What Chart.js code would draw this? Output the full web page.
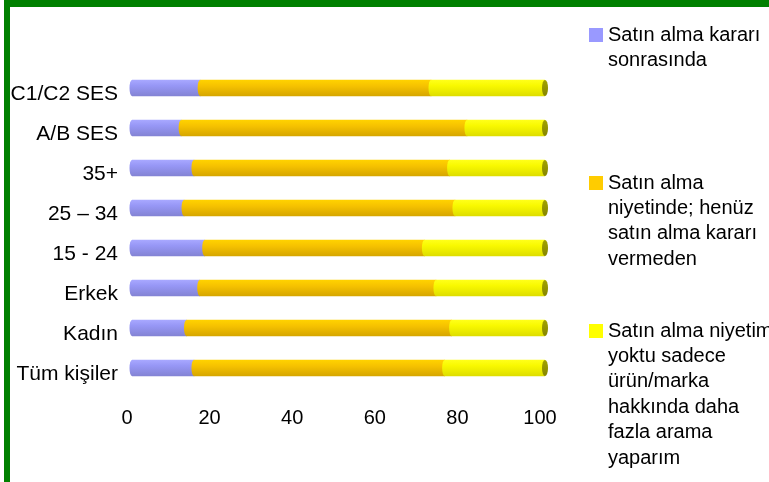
<!DOCTYPE html>
<html>
<head>
<meta charset="utf-8">
<script src="https://cdn.jsdelivr.net/npm/chart.js@4/dist/chart.umd.min.js"></script>
<style>
  body { margin: 0; background: #fff; overflow: hidden; }
  #wrap { position: relative; width: 769px; height: 482px; }
  #frame {
    position: absolute; left: 4px; top: 0px; width: 900px; height: 600px;
    border-top: 7px solid #008000; border-left: 6px solid #008000;
    pointer-events: none;
  }
</style>
</head>
<body>
<div id="wrap">
  <canvas id="canvas1" width="769" height="482"></canvas>
  <div id="frame"></div>
</div>
<script>
var groups = ["C1/C2 SES", "A/B SES", "35+", "25 \u2013 34", "15 - 24", "Erkek", "Kad\u0131n", "T\u00fcm ki\u015filer"];
var afterDecision = [16.5, 11.9, 15.0, 12.6, 17.6, 16.4, 13.2, 15.0];
var stillDeciding = [55.9, 69.2, 61.9, 65.6, 53.2, 57.2, 64.2, 60.7];
var justResearching = [27.6, 18.9, 23.1, 21.8, 29.2, 26.4, 22.6, 24.3];
var xTicks = [0, 20, 40, 60, 80, 100];

// legend text, one entry per series, already broken into lines
var legendLines = [
    ["Sat\u0131n alma karar\u0131", "sonras\u0131nda"],
    ["Sat\u0131n alma", "niyetinde; hen\u00fcz", "sat\u0131n alma karar\u0131", "vermeden"],
    ["Sat\u0131n alma niyetim", "yoktu sadece", "\u00fcr\u00fcn/marka", "hakk\u0131nda daha", "fazla arama", "yapar\u0131m"]
];
var legendTop = [35, 183, 331];

// light / mid / dark shades for the tube look
var shades = [
    ["#A8A8FF", "#9797F6", "#8383D4"],
    ["#FFD200", "#F7C300", "#D6A600"],
    ["#FFFF1A", "#F9F900", "#DEDE00"]
];
var flat = ["#9999FF", "#FFCC00", "#FFFF00"];
var BAR_H = 16;
var FONT = "'Liberation Sans', Arial, sans-serif";

function tube(idx) {
    return function (ctx) {
        var chart = ctx.chart;
        var ys = chart.scales.y;
        if (!ys || !chart.chartArea) return flat[idx];
        var yc = ys.getPixelForValue(ctx.dataIndex);
        var g = chart.ctx.createLinearGradient(0, yc - BAR_H / 2, 0, yc + BAR_H / 2);
        g.addColorStop(0, shades[idx][0]);
        g.addColorStop(0.35, shades[idx][1]);
        g.addColorStop(1, shades[idx][2]);
        return g;
    };
}

var tubeEnds = {
    id: 'tubeEnds',
    afterDatasetsDraw: function (chart) {
        var c = chart.ctx;
        c.save();
        for (var d = 0; d < 3; d++) {
            chart.getDatasetMeta(d).data.forEach(function (el) {
                c.beginPath();
                c.ellipse(el.base, el.y, 2.5, el.height / 2, 0, 0, Math.PI * 2);
                c.fillStyle = el.options.backgroundColor;
                c.fill();
            });
        }
        chart.getDatasetMeta(2).data.forEach(function (el) {
            var g = c.createLinearGradient(0, el.y - el.height / 2, 0, el.y + el.height / 2);
            g.addColorStop(0, "#A3A300");
            g.addColorStop(1, "#858500");
            c.beginPath();
            c.ellipse(el.x, el.y, 3, el.height / 2, 0, 0, Math.PI * 2);
            c.fillStyle = g;
            c.fill();
        });
        c.restore();
    }
};

var sideLegend = {
    id: 'sideLegend',
    afterDraw: function (chart) {
        var c = chart.ctx;
        c.save();
        c.font = "20px " + FONT;
        c.textBaseline = "middle";
        c.textAlign = "left";
        legendLines.forEach(function (lines, i) {
            var top = legendTop[i];
            c.fillStyle = flat[i];
            c.fillRect(589, top - 7, 14, 14);
            c.fillStyle = "#000";
            lines.forEach(function (t, k) {
                c.fillText(t, 608, top + k * 25.4);
            });
        });
        c.restore();
    }
};

new Chart(document.getElementById("canvas1"), {
    type: 'bar',
    data: {
        labels: groups,
        datasets: [
            { label: legendLines[0].join(" "), data: afterDecision, backgroundColor: tube(0) },
            { label: legendLines[1].join(" "), data: stillDeciding, backgroundColor: tube(1) },
            { label: legendLines[2].join(" "), data: justResearching, backgroundColor: tube(2) }
        ]
    },
    options: {
        indexAxis: 'y',
        responsive: false,
        animation: false,
        barThickness: BAR_H,
        borderWidth: 0,
        layout: { padding: { top: 68, right: 224, bottom: 0, left: 0 } },
        plugins: { legend: { display: false }, tooltip: { enabled: false } },
        scales: {
            x: {
                stacked: true,
                min: 0,
                max: 100,
                afterBuildTicks: function (s) {
                    s.ticks = xTicks.map(function (v) { return { value: v }; });
                },
                afterFit: function (s) { s.height = 94; },
                grid: { display: false, drawTicks: false },
                border: { display: false },
                ticks: {
                    padding: 18,
                    labelOffset: -5,
                    color: "#000",
                    font: { family: FONT, size: 20 }
                }
            },
            y: {
                stacked: true,
                afterFit: function (s) { s.width = 132; },
                grid: { display: false, drawTicks: false },
                border: { display: false },
                ticks: {
                    padding: 14,
                    labelOffset: 6,
                    color: "#000",
                    font: { family: FONT, size: 21 }
                }
            }
        }
    },
    plugins: [tubeEnds, sideLegend]
});
</script>
</body>
</html>
